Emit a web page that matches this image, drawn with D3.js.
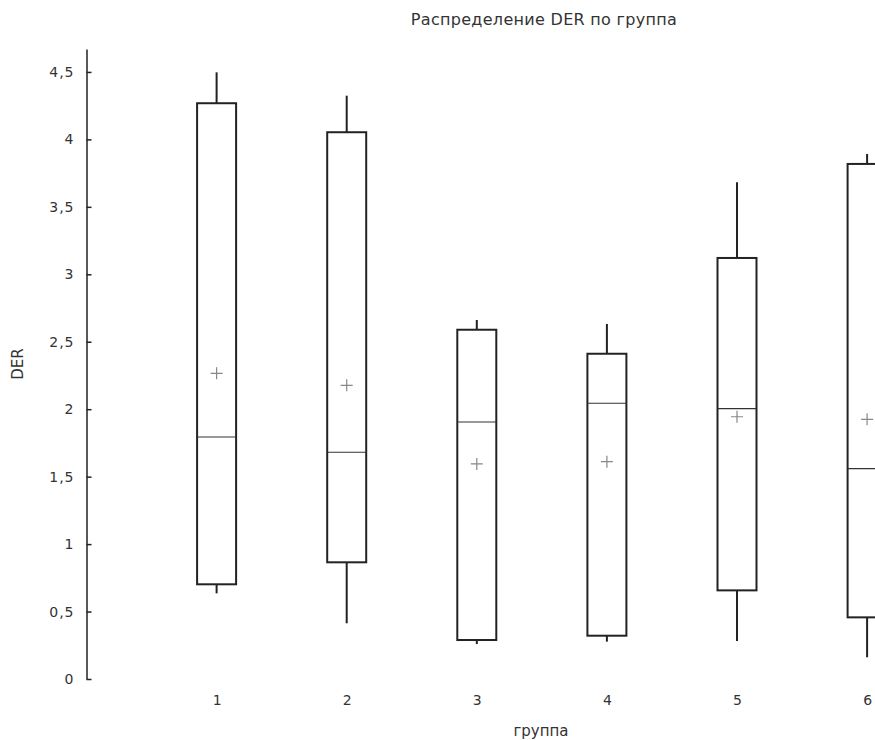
<!DOCTYPE html>
<html>
<head>
<meta charset="utf-8">
<script src="https://cdn.jsdelivr.net/npm/d3@7"></script>
<style>
  body { margin: 0; background: #fff; }
  text { font-family: "DejaVu Sans", Verdana, sans-serif; fill: #333; }
</style>
</head>
<body>
<div class="chart"></div>
<script>
// Data
var groups = [1, 2, 3, 4, 5, 6];
var whiskerLow = [0.635, 0.413, 0.259, 0.277, 0.282, 0.161];
var q1 = [0.702, 0.865, 0.289, 0.321, 0.657, 0.457];
var median = [1.794, 1.681, 1.905, 2.044, 2.004, 1.559];
var q3 = [4.268, 4.053, 2.589, 2.411, 3.121, 3.818];
var whiskerHigh = [4.497, 4.324, 2.661, 2.632, 3.682, 3.892];
var means = [2.266, 2.177, 1.594, 1.611, 1.944, 1.925];
var yTicks = [0, 0.5, 1, 1.5, 2, 2.5, 3, 3.5, 4, 4.5];

var svgWidth = 875;
var svgHeight = 740;

var data = groups.map(function (g, i) {
  return { group: g, lo: whiskerLow[i], q1: q1[i], med: median[i], q3: q3[i], hi: whiskerHigh[i], mean: means[i] };
});

var svg = d3.select(".chart")
  .append("svg")
  .attr("width", svgWidth)
  .attr("height", svgHeight);

// Scales
var xScale = d3.scaleLinear()
  .domain([0, 6.5])
  .range([86.5, 86.5 + 130.1 * 6.5]);

var yScale = d3.scaleLinear()
  .domain([0, 4.67])
  .range([679, 49]);

var boxW = 39;

// Y axis: ticks point inward, labels on the left
var yAxis = d3.axisLeft(yScale)
  .tickValues(yTicks)
  .tickSizeInner(-5)
  .tickSizeOuter(0)
  .tickPadding(12)
  .tickFormat(function (d) { return String(d).replace(".", ","); });

var yG = svg.append("g")
  .attr("transform", `translate(${xScale(0)}, 0)`)
  .call(yAxis)
  .attr("font-size", 14)
  .attr("font-family", "DejaVu Sans");
yG.select(".domain").attr("stroke", "#222").attr("stroke-width", 1.5);
yG.selectAll(".tick line").attr("stroke", "#222").attr("stroke-width", 1.5);
yG.selectAll(".tick text")
  .attr("fill", "#333")
  .attr("font-size", 14)
  .attr("letter-spacing", 1);

// X labels only (no axis line)
var xAxis = d3.axisBottom(xScale)
  .tickValues(groups)
  .tickSize(0)
  .tickPadding(0)
  .tickFormat(d3.format("d"));

var xG = svg.append("g")
  .attr("transform", "translate(0, 695)")
  .call(xAxis)
  .attr("font-size", 14)
  .attr("font-family", "DejaVu Sans");
xG.select(".domain").remove();
xG.selectAll(".tick text")
  .attr("fill", "#333")
  .attr("font-size", 14);

// Boxes
var boxes = svg.append("g").selectAll("g.box")
  .data(data)
  .enter()
  .append("g")
  .attr("class", "box");

// upper whisker
boxes.append("line")
  .attr("x1", d => xScale(d.group))
  .attr("x2", d => xScale(d.group))
  .attr("y1", d => yScale(d.q3))
  .attr("y2", d => yScale(d.hi))
  .attr("stroke", "#222")
  .attr("stroke-width", 2);

// lower whisker
boxes.append("line")
  .attr("x1", d => xScale(d.group))
  .attr("x2", d => xScale(d.group))
  .attr("y1", d => yScale(d.q1))
  .attr("y2", d => yScale(d.lo))
  .attr("stroke", "#222")
  .attr("stroke-width", 2);

boxes.append("rect")
  .attr("x", d => xScale(d.group) - boxW / 2)
  .attr("y", d => yScale(d.q3))
  .attr("width", boxW)
  .attr("height", d => yScale(d.q1) - yScale(d.q3))
  .attr("fill", "none")
  .attr("stroke", "#222")
  .attr("stroke-width", 2);

boxes.append("line")
  .attr("x1", d => xScale(d.group) - boxW / 2)
  .attr("x2", d => xScale(d.group) + boxW / 2)
  .attr("y1", d => yScale(d.med))
  .attr("y2", d => yScale(d.med))
  .attr("stroke", "#333")
  .attr("stroke-width", 1.2);

// mean markers (+)
boxes.append("path")
  .attr("d", function (d) {
    var cx = xScale(d.group), cy = yScale(d.mean);
    return `M${cx - 6},${cy}H${cx + 6}M${cx},${cy - 6}V${cy + 6}`;
  })
  .attr("stroke", "#888")
  .attr("stroke-width", 1.2)
  .attr("fill", "none");

// Title and axis labels
svg.append("text")
  .attr("x", 544)
  .attr("y", 25)
  .attr("text-anchor", "middle")
  .attr("font-size", 16)
  .attr("letter-spacing", 0.3)
  .text("Распределение DER по группа");

svg.append("text")
  .attr("transform", "rotate(-90)")
  .attr("x", -364)
  .attr("y", 23)
  .attr("text-anchor", "middle")
  .attr("font-size", 15)
  .text("DER");

svg.append("text")
  .attr("x", 541)
  .attr("y", 736)
  .attr("text-anchor", "middle")
  .attr("font-size", 15)
  .text("группа");
</script>
</body>
</html>
